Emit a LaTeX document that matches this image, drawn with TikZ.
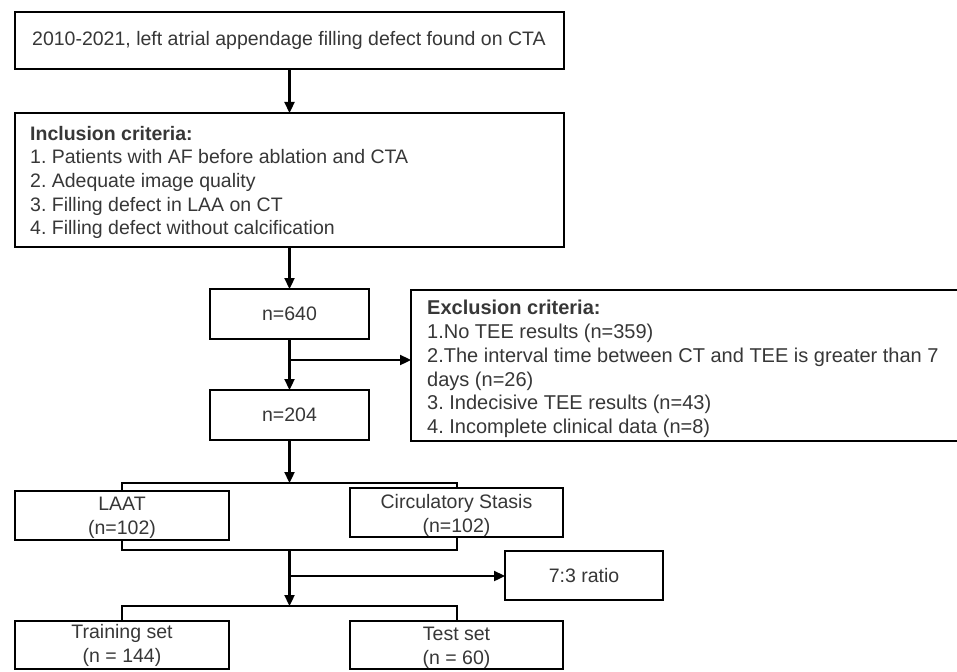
\documentclass[tikz,border=0pt]{standalone}
\usepackage{fontspec}
\setmainfont{Liberation Sans}
\usetikzlibrary{arrows.meta}
\definecolor{txtgray}{RGB}{55,55,55}
\frenchspacing
\begin{document}
\begin{tikzpicture}[x=1pt,y=-1pt,
  box/.style={draw=black, line width=2.8pt, rectangle, inner sep=0pt, outer sep=0pt, anchor=north west},
  txt/.style={text=txtgray, inner sep=0pt, font=\fontsize{19.5}{23.7}\selectfont},
  extxt/.style={txt, font=\fontsize{20}{23.7}\selectfont},
  conn/.style={line width=2.3pt, draw=black},
  arr/.style={conn, -{Triangle[length=11pt,width=10pt]}},
  brk/.style={line width=2pt, draw=black}
]
\clip (0,0) rectangle (957,671);
\fill[white] (0,0) rectangle (957,671);

% boxes
\node[box, minimum width=549pt, minimum height=57pt] (top) at (15,12) {};
\node[box, minimum width=549pt, minimum height=134pt] (incl) at (15,113) {};
\node[box, minimum width=159pt, minimum height=50pt] (n640) at (210,289) {};
\node[box, minimum width=560pt, minimum height=151pt] (excl) at (411,290) {};
\node[box, minimum width=159pt, minimum height=50pt] (n204) at (210,390) {};
\node[box, minimum width=214pt, minimum height=49pt] (laat) at (15,491) {};
\node[box, minimum width=213pt, minimum height=49pt] (circ) at (350,488) {};
\node[box, minimum width=158pt, minimum height=49pt] (ratio) at (505,551) {};
\node[box, minimum width=214pt, minimum height=48pt] (train) at (15,621) {};
\node[box, minimum width=213pt, minimum height=48pt] (test) at (350,621) {};

% texts
\node[txt, anchor=west] (ttop) at (32,40.5) {2010-2021, left atrial appendage filling defect found on CTA};
\node[txt, anchor=west, align=left] (tincl) at (30,182.5) {\textbf{Inclusion criteria:}\\
1. Patients with AF before ablation and CTA\\
2. Adequate image quality\\
3. Filling defect in LAA on CT\\
4. Filling defect without calcification};
\node[txt] (t640) at (n640.center) {n=640};
\node[extxt, anchor=west, align=left] (texcl) at (427,369) {\textbf{Exclusion criteria:}\\
1.No TEE results (n=359)\\
2.The interval time between CT and TEE is greater than 7\\
days (n=26)\\
3. Indecisive TEE results (n=43)\\
4. Incomplete clinical data (n=8)};
\node[txt] (t204) at (n204.center) {n=204};
\node[txt, align=center] (tlaat) at (122,518) {LAAT\\(n=102)};
\node[txt, align=center] (tcirc) at (456.5,515.5) {Circulatory Stasis\\(n=102)};
\node[txt] (tratio) at (ratio.center) {7:3 ratio};
\node[txt, align=center] (ttrain) at (122,645.5) {Training set\\(n = 144)};
\node[txt, align=center] (ttest) at (456.5,648) {Test set\\(n = 60)};

% junction coordinates
\coordinate (j1) at (289.5,360);
\coordinate (b1) at (289.5,483);
\coordinate (b2) at (289.5,550);
\coordinate (j2) at (289.5,576);
\coordinate (b3) at (289.5,606);

% connectors
\draw[arr] (top.south) -- (incl.north);
\draw[arr] (incl.south) -- (n640.north);
\draw[arr] (n640.south) -- (n204.north);
\draw[arr] (j1) -- (j1 -| excl.west);
\draw[arr] (n204.south) -- (b1);
\draw[brk] (laat.north) |- (b1) -| (circ.north);
\draw[brk] (laat.south) |- (b2) -| (circ.south);
\draw[arr] (b2) -- (b3);
\draw[arr] (j2) -- (j2 -| ratio.west);
\draw[brk] (train.north) |- (b3) -| (test.north);
\end{tikzpicture}
\end{document}
